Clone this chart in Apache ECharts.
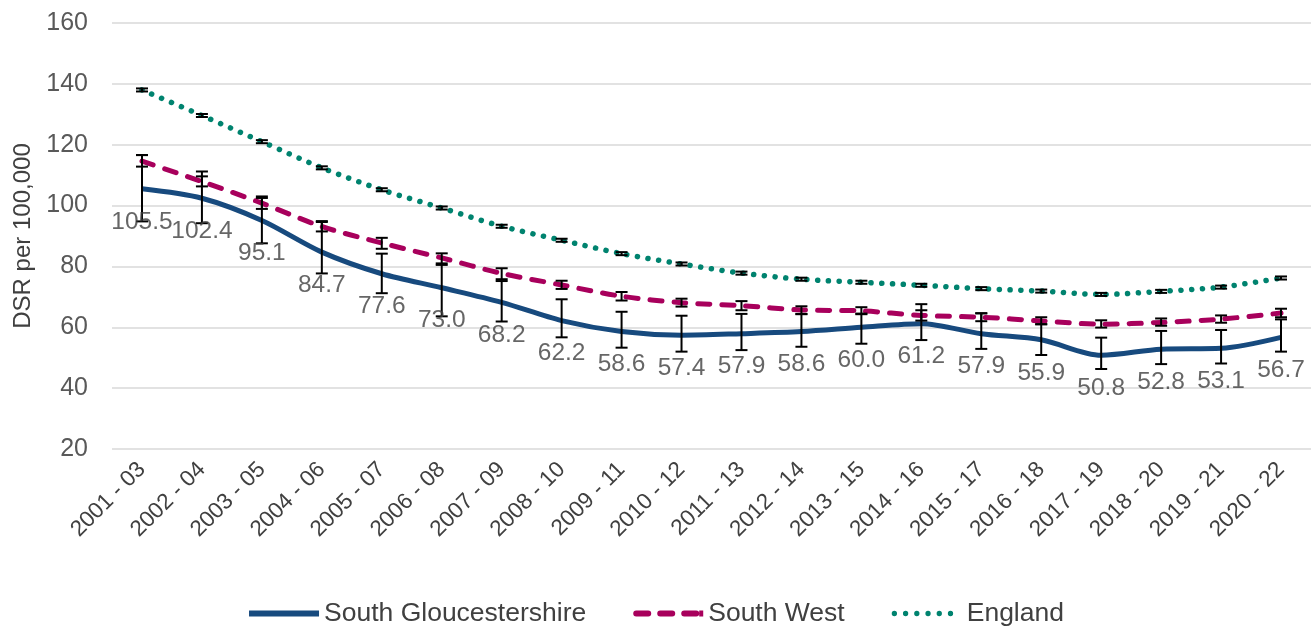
<!DOCTYPE html>
<html><head><meta charset="utf-8">
<script src="https://cdn.jsdelivr.net/npm/echarts@6/dist/echarts.min.js"></script>
<style>html,body{margin:0;padding:0;background:#fff}#c{width:1313px;height:627px}</style>
</head><body><div id="c"></div>
<script>
const categories = ['2001 - 03','2002 - 04','2003 - 05','2004 - 06','2005 - 07','2006 - 08','2007 - 09','2008 - 10','2009 - 11','2010 - 12','2011 - 13','2012 - 14','2013 - 15','2014 - 16','2015 - 17','2016 - 18','2017 - 19','2018 - 20','2019 - 21','2020 - 22'];
const sgValues = [105.5,102.4,95.1,84.7,77.6,73.0,68.2,62.2,58.6,57.4,57.9,58.6,60.0,61.2,57.9,55.9,50.8,52.8,53.1,56.7];
const sgLower  = [94.8,94.2,87.6,77.7,71.2,63.6,61.9,56.7,53.3,52.0,52.5,53.6,54.6,55.8,52.9,50.9,46.3,47.9,48.1,52.0];
const sgUpper  = [116.6,111.2,103.0,94.9,84.2,80.5,75.2,69.2,65.1,63.8,64.4,64.3,64.5,67.6,64.6,61.0,56.6,58.8,59.1,62.6];
const swValues = [114.6,107.9,100.8,93.1,87.7,82.8,77.7,73.9,70.2,68.1,67.1,65.7,65.4,63.9,63.3,62.1,61.0,61.6,62.7,64.7];
const swLower  = [112.8,106.3,98.9,91.5,85.8,81.0,75.8,72.6,68.8,66.8,65.6,64.4,64.3,62.2,62.0,61.0,59.9,60.5,61.5,63.3];
const swUpper  = [116.6,109.6,102.5,94.6,89.4,84.3,79.4,75.3,71.6,69.4,68.6,66.9,66.6,65.6,64.6,63.3,62.3,62.9,63.9,66.1];
const enValues = [138.0,129.6,121.0,112.4,105.2,99.2,93.2,88.6,84.2,80.8,77.8,75.8,74.8,73.8,72.7,71.9,70.8,71.8,73.2,76.2];
const enLower  = [137.5,129.1,120.5,111.9,104.7,98.7,92.7,88.1,83.7,80.3,77.3,75.3,74.3,73.3,72.2,71.4,70.3,71.3,72.7,75.7];
const enUpper  = [138.5,130.1,121.5,112.9,105.7,99.7,93.7,89.1,84.7,81.3,78.3,76.3,75.3,74.3,73.2,72.4,71.3,72.3,73.7,76.7];
const yTicks = {min: 20, max: 160, interval: 20};

function ciData(lo, hi){ return lo.map((l,i)=>[i,l,hi[i]]); }
function errRender(params, api){
  const x = api.value(0);
  const lo = api.coord([x, api.value(1)]);
  const hi = api.coord([x, api.value(2)]);
  const w = 6;
  const st = {stroke:'#000', lineWidth:2};
  return {type:'group', children:[
    {type:'line', shape:{x1:lo[0],y1:lo[1],x2:hi[0],y2:hi[1]}, style:st},
    {type:'line', shape:{x1:lo[0]-w,y1:lo[1],x2:lo[0]+w,y2:lo[1]}, style:st},
    {type:'line', shape:{x1:hi[0]-w,y1:hi[1],x2:hi[0]+w,y2:hi[1]}, style:st}
  ]};
}
const iconSolid = 'path://M0,0H70V6H0Z';
const iconDash = 'path://M3,0H15A3,3 0 0 1 15,6H3A3,3 0 0 1 3,0Z M27,0H39A3,3 0 0 1 39,6H27A3,3 0 0 1 27,0Z M51,0H63A3,3 0 0 1 63,6H51A3,3 0 0 1 51,0Z M66,0H70V6H66Z';
function dots(){ let p='path://'; for(let i=0;i<6;i++){ const cx=4+i*11; p+='M'+(cx-2.6)+',3a2.6,2.6 0 1,0 5.2,0a2.6,2.6 0 1,0 -5.2,0Z'; } p+='M66,2.9H70V3.1H66Z'; return p; }

const chart = echarts.init(document.getElementById('c'));
const font = 'Liberation Sans, Arial, sans-serif';
chart.setOption({
  animation:false,
  textStyle:{fontFamily:font},
  grid:{left:112, right:2, top:23, bottom:178},
  legend:{
    data:[
      {name:'South Gloucestershire', icon:iconSolid, itemStyle:{color:'#174a7e'}},
      {name:'South West', icon:iconDash, itemStyle:{color:'#a8005c'}},
      {name:'England', icon:dots(), itemStyle:{color:'#00836f'}}
    ],
    bottom:-5, left:'center', itemWidth:70, itemHeight:14, itemGap:47,
    textStyle:{fontSize:26.5, color:'#404040', fontFamily:font}
  },
  xAxis:{
    type:'category', data:categories, boundaryGap:true,
    axisLine:{show:false}, axisTick:{show:false},
    axisLabel:{rotate:45, fontSize:22.5, color:'#404040', margin:17, interval:0, fontFamily:font}
  },
  yAxis:{
    type:'value', min:yTicks.min, max:yTicks.max, interval:yTicks.interval,
    name:'DSR per 100,000', nameLocation:'middle', nameGap:77, nameRotate:90,
    nameTextStyle:{fontSize:24, color:'#404040', fontFamily:font},
    axisLine:{show:false}, axisTick:{show:false},
    axisLabel:{fontSize:25, color:'#595959', margin:24, fontFamily:font},
    splitLine:{lineStyle:{color:'#d9d9d9', width:1.5}}
  },
  series:[
    {name:'England', type:'line', data:enValues, smooth:0.3, symbol:'none', z:2,
      lineStyle:{color:'#00836f', width:5.5, type:[0.1,10.6], cap:'round'}, itemStyle:{color:'#00836f'}},
    {name:'South West', type:'line', data:swValues, smooth:0.3, symbol:'none', z:3,
      lineStyle:{color:'#a8005c', width:5, type:[12,12], cap:'round'}, itemStyle:{color:'#a8005c'}},
    {name:'South Gloucestershire', type:'line', data:sgValues, smooth:0.3, symbol:'none', z:4,
      lineStyle:{color:'#174a7e', width:5}, itemStyle:{color:'#174a7e'}},
    {name:'enCI', type:'custom', data:ciData(enLower,enUpper), renderItem:errRender, z:10},
    {name:'swCI', type:'custom', data:ciData(swLower,swUpper), renderItem:errRender, z:10},
    {name:'sgCI', type:'custom', data:ciData(sgLower,sgUpper), renderItem:errRender, z:10},
    {name:'sgLabels', type:'scatter', data:sgValues, symbolSize:1, itemStyle:{color:'rgba(0,0,0,0)'}, z:11,
      label:{show:true, position:'bottom', distance:20, fontSize:24.5, color:'#404040', fontFamily:font,
        formatter:p=>p.value.toFixed(1)}}
  ]
});
</script></body></html>
